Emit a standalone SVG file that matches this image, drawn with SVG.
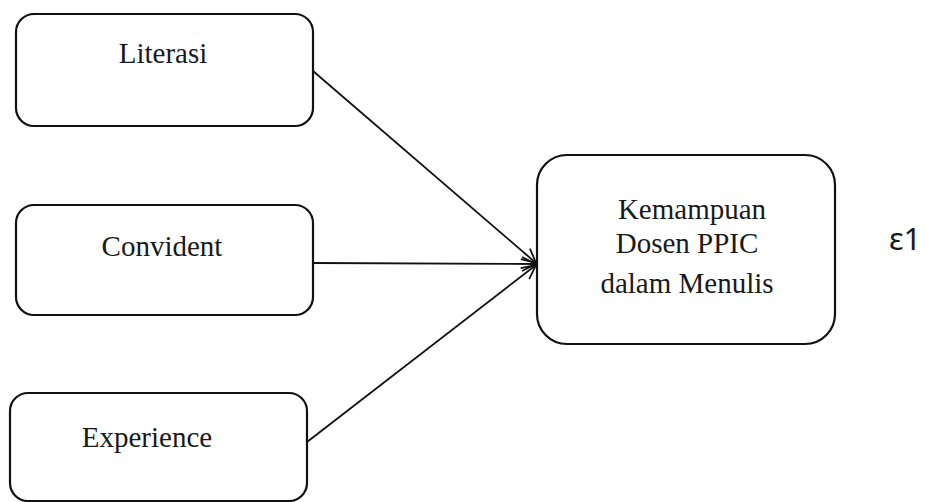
<svg xmlns="http://www.w3.org/2000/svg" width="925" height="502" viewBox="0 0 925 502">
<style>
.box{fill:#fff;stroke:#111;stroke-width:2.2}
.lbl{font-family:"Liberation Serif","Times New Roman",serif;font-size:29px;fill:#1a1a1a;text-anchor:middle}
.conn{stroke:#111;stroke-width:1.8;fill:none;marker-end:url(#arr)}
.eps{font-family:"Noto Sans","DejaVu Sans",sans-serif;font-size:31px;fill:#1a1a1a}
</style>
<defs>
<marker id="arr" markerUnits="userSpaceOnUse" markerWidth="20" markerHeight="20" refX="16" refY="8" orient="auto">
<path d="M2,1 L16,8 L2,15" fill="none" stroke="#111" stroke-width="1.8"/>
</marker>
</defs>
<rect width="925" height="502" fill="#fff"/>
<g id="connectors">
<line class="conn" x1="313" y1="71" x2="536" y2="263"/>
<line class="conn" x1="313" y1="263" x2="536" y2="264"/>
<line class="conn" x1="307" y1="442" x2="536" y2="265"/>
</g>
<g id="literasi">
<rect class="box" x="16" y="14" width="297" height="112" rx="18"/>
<text class="lbl" x="163" y="63">Literasi</text>
</g>
<g id="convident">
<rect class="box" x="16" y="205" width="297" height="110" rx="18"/>
<text class="lbl" x="162" y="256">Convident</text>
</g>
<g id="experience">
<rect class="box" x="10" y="393" width="297" height="108" rx="18"/>
<text class="lbl" x="147" y="447">Experience</text>
</g>
<g id="kemampuan">
<rect class="box" x="537" y="155" width="298" height="189" rx="30"/>
<text class="lbl" x="692" y="219">Kemampuan</text>
<text class="lbl" x="687" y="253">Dosen PPIC</text>
<text class="lbl" x="687" y="293">dalam Menulis</text>
</g>
<g id="error">
<text class="eps" x="889" y="250">ε1</text>
</g>
</svg>
